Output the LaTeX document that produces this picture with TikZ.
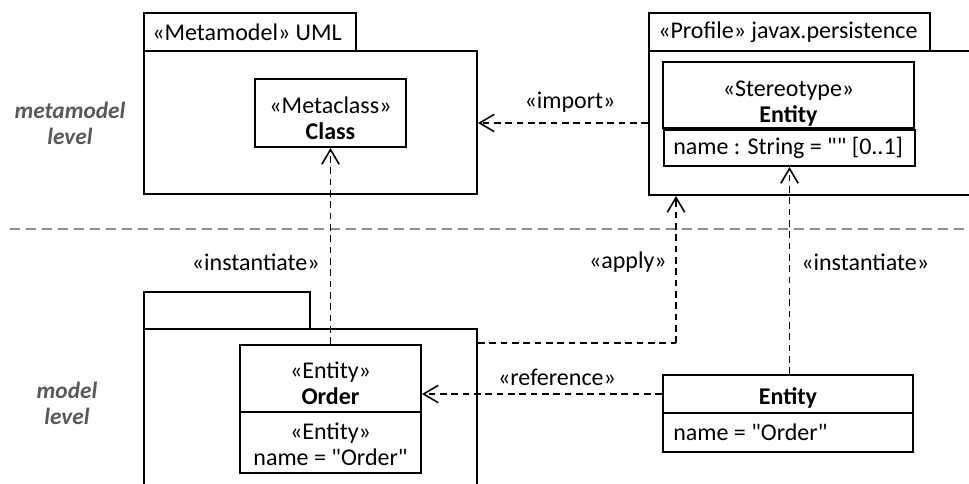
\documentclass[tikz,border=0pt]{standalone}
\usepackage{fontspec}
\setmainfont{Carlito}[Ligatures=TeXOff]
\usetikzlibrary{arrows.meta,fit}
\definecolor{levelgray}{RGB}{89,89,89}
\definecolor{sepgray}{RGB}{140,140,140}
\begin{document}
\begin{tikzpicture}[x=0.75pt,y=-0.75pt,
  font=\fontsize{18pt}{19.5pt}\selectfont,
  frame/.style={draw, line width=1.5pt, fill=white, inner sep=0pt},
  txt/.style={inner sep=0pt, align=center},
  ltxt/.style={inner sep=0pt, anchor=west},
  dep/.style={draw, line width=1.3pt, dash pattern=on 5pt off 3.5pt,
    -{Straight Barb[length=11pt, width=13pt, line width=1.2pt]}},
  plain/.style={draw, line width=1.3pt, dash pattern=on 5pt off 3.5pt},
  lvl/.style={inner sep=0pt, align=center, text=levelgray,
    font=\fontsize{17.5pt}{19.5pt}\selectfont\bfseries\itshape}
]
\useasboundingbox (0,0) rectangle (969,483);
\clip (0,0) rectangle (969,483);

% level separator
\coordinate (sepL) at (10,229);
\coordinate (sepR) at (975,229);
\draw[sepgray, line width=1.2pt, dash pattern=on 7.5pt off 4.5pt] (sepL) -- (sepR);

% level captions
\node[lvl] (metalevel) at (70,123) {metamodel\\level};
\node[lvl] (modellevel) at (67,403) {model\\level};

% metamodel package UML
\node[frame, fit={(144,13) (356,51)}] (umltab) {};
\node[frame, fit={(144,51) (477,194)}] (umlbody) {};
\node[ltxt] (umltabtext) at (152,32) {«Metamodel» UML};
\node[frame, fit={(255,79) (406,147)}] (metaclass) {};
\node[txt] (metaclasstext) at (330.5,118) {«Metaclass»\\\textbf{Class}};

% profile package
\node[frame, fit={(649,13) (930,51)}] (proftab) {};
\node[frame, fit={(649,51) (990,195)}] (profbody) {};
\node[ltxt] (proftabtext) at (658,32) {«Profile» javax.persistence};
\node[frame, fit={(663,62) (914,128)}] (stereotop) {};
\node[frame, fit={(664,129.5) (915,166)}] (stereoattr) {};
\node[txt] (stereotext) at (788.5,104) {«Stereotype»\\\textbf{Entity}};
\node[ltxt] (stereoattrtext) at (673,148) {name : String = "" [0..1]};

% model package
\node[frame, fit={(144,292) (310,329)}] (modeltab) {};
\node[frame, fit={(144,329) (477,500)}] (modelbody) {};
\node[frame, fit={(240,345) (421,412)}] (ordertop) {};
\node[frame, fit={(240,412) (421,473)}] (orderattr) {};
\node[txt] (ordertext) at (330.5,383) {«Entity»\\\textbf{Order}};
\node[txt] (orderattrtext) at (330.5,444) {«Entity»\\name = "Order"};

% instance specification
\node[frame, fit={(663,375) (913,413)}] (entitytop) {};
\node[frame, fit={(663,413) (913,452)}] (entityattr) {};
\node[txt] (entitytext) at (788,398) {\textbf{Entity}};
\node[ltxt] (entityattrtext) at (673,432) {name = "Order"};

% dependencies
\draw[dep] (profbody.west) -- (profbody.west -| umlbody.east);
\node[txt] (importlbl) at (570,102) {«import»};

\draw[dep] (ordertop.north) -- (metaclass.south);
\node[txt, anchor=east] (instlbl1) at (320,262) {«instantiate»};

\coordinate (applybend) at (676,343);
\draw[plain] (modelbody.east |- applybend) -- (applybend);
\draw[dep] (applybend) -- (applybend |- profbody.south);
\node[txt, anchor=east] (applylbl) at (667,262) {«apply»};

\draw[dep] (entitytop.north -| stereoattr.south) -- (stereoattr.south);
\node[txt, anchor=west] (instlbl2) at (801,262) {«instantiate»};

\draw[dep] (entitytop.west) -- (entitytop.west -| ordertop.east);
\node[txt] (reflbl) at (557,377) {«reference»};
\end{tikzpicture}
\end{document}
